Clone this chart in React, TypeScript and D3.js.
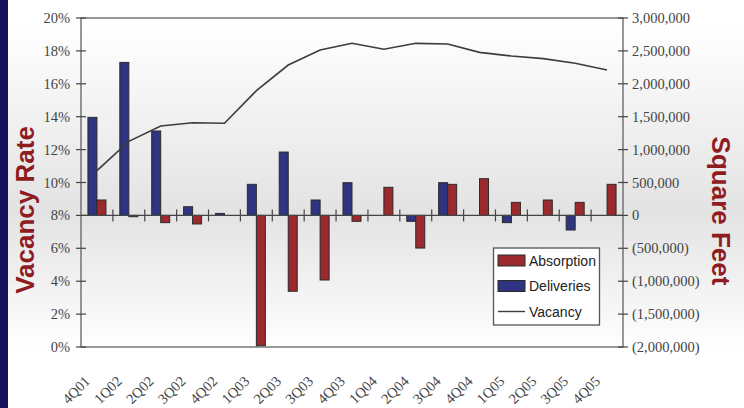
import React, { useEffect, useRef } from "react";
import * as d3 from "d3";

const categories = ["4Q01","1Q02","2Q02","3Q02","4Q02","1Q03","2Q03","3Q03","4Q03","1Q04","2Q04","3Q04","4Q04","1Q05","2Q05","3Q05","4Q05"];
const deliveries = [1490000, 2325000, 1283000, 132000, 30000, 472000, 963000, 234000, 497000, 0, -90000, 497000, 0, -110000, 0, -222000, 0];
const absorption = [234000, -20000, -110000, -130000, 0, -1980000, -1153000, -982000, -90000, 427000, -496000, 472000, 558000, 198000, 234000, 198000, 472000];
const vacancy = [10.72, 12.5, 13.43, 13.63, 13.6, 15.58, 17.14, 18.05, 18.46, 18.1, 18.46, 18.42, 17.91, 17.69, 17.53, 17.25, 16.84];
const leftTicks = [0, 2, 4, 6, 8, 10, 12, 14, 16, 18, 20];
const rightTicks = [-2000000, -1500000, -1000000, -500000, 0, 500000, 1000000, 1500000, 2000000, 2500000, 3000000];
const seriesNames = ["Deliveries", "Absorption"];
const legendItems = ["Absorption", "Deliveries", "Vacancy"];

const W = 744, H = 408;
const L = 81, R = 623, T = 18, B = 347;
const RED = "#9b2a2e", BLUE = "#2f3480", EDGE = "#2b2b2b";

export default function App() {
  const ref = useRef<SVGSVGElement>(null);
  useEffect(() => {
    document.body.style.margin = "0";
    const svg = d3.select(ref.current);
    svg.selectAll("*").remove();

    const defs = svg.append("defs");
    const g0 = defs.append("linearGradient").attr("id", "bg").attr("x1", 0).attr("y1", 0).attr("x2", 0).attr("y2", 1);
    [[0, "#ffffff"], [0.06, "#ffffff"], [0.52, "#e3e3e3"], [0.86, "#ffffff"], [1, "#ffffff"]].forEach(([o, c]) =>
      g0.append("stop").attr("offset", o as number).attr("stop-color", c as string));

    svg.append("rect").attr("width", W).attr("height", H).attr("fill", "url(#bg)");
    svg.append("rect").attr("width", 8).attr("height", H).attr("fill", "#17105a");

    const x = d3.scaleBand<string>().domain(categories).range([L, R]).paddingInner(0).paddingOuter(0);
    const x1 = d3.scaleBand<string>().domain(seriesNames).range([0, x.bandwidth()]).paddingInner(0).paddingOuter(0.77);
    const yL = d3.scaleLinear().domain([0, 20]).range([B, T]);
    const yR = d3.scaleLinear().domain([-2000000, 3000000]).range([B, T]);

    // frame
    svg.append("rect").attr("x", L).attr("y", T).attr("width", R - L).attr("height", B - T)
      .attr("fill", "none").attr("stroke", "#555").attr("stroke-width", 1.2);

    // bars
    const bars = svg.append("g");
    const drawBars = (vals: number[], name: string, color: string) => {
      bars.selectAll(null).data(vals.map((v, i) => ({ v, c: categories[i] })).filter(d => d.v !== 0))
        .enter().append("rect")
        .attr("x", d => (x(d.c) as number) + (x1(name) as number))
        .attr("width", x1.bandwidth())
        .attr("y", d => Math.min(yR(d.v), yR(0)))
        .attr("height", d => Math.abs(yR(d.v) - yR(0)))
        .attr("fill", color).attr("stroke", EDGE).attr("stroke-width", 1);
    };
    drawBars(deliveries, "Deliveries", BLUE);
    drawBars(absorption, "Absorption", RED);

    // zero line with category ticks
    const z = yR(0);
    svg.append("line").attr("x1", L).attr("x2", R).attr("y1", z).attr("y2", z).attr("stroke", "#444").attr("stroke-width", 1.2);
    svg.append("g").selectAll("line").data(categories.slice(1)).enter().append("line")
      .attr("x1", d => x(d) as number).attr("x2", d => x(d) as number)
      .attr("y1", z - 6).attr("y2", z + 6).attr("stroke", "#444").attr("stroke-width", 1.2);

    // vacancy line
    const line = d3.line<number>().x((_, i) => (x(categories[i]) as number) + x.bandwidth() / 2).y(d => yL(d));
    svg.append("path").datum(vacancy).attr("d", line).attr("fill", "none").attr("stroke", "#3c3c3c").attr("stroke-width", 1.6);

    // left axis
    const la = svg.append("g");
    leftTicks.forEach(t => {
      la.append("line").attr("x1", L - 5).attr("x2", L + 5).attr("y1", yL(t)).attr("y2", yL(t)).attr("stroke", "#444").attr("stroke-width", 1.2);
      la.append("text").attr("x", 70).attr("y", yL(t)).attr("dy", "0.35em").attr("text-anchor", "end")
        .attr("font-family", "Liberation Serif, serif").attr("font-size", 14.5).attr("fill", "#444").text(t + "%");
    });
    // right axis
    const fmt = d3.format(",");
    const ra = svg.append("g");
    rightTicks.forEach(t => {
      ra.append("line").attr("x1", R - 5).attr("x2", R + 5).attr("y1", yR(t)).attr("y2", yR(t)).attr("stroke", "#444").attr("stroke-width", 1.2);
      ra.append("text").attr("x", 632).attr("y", yR(t)).attr("dy", "0.35em").attr("text-anchor", "start")
        .attr("font-family", "Liberation Serif, serif").attr("font-size", 14.5).attr("fill", "#444")
        .text(t < 0 ? `(${fmt(-t)})` : fmt(t));
    });

    // x labels
    svg.append("g").selectAll("text").data(categories).enter().append("text")
      .attr("transform", d => `translate(${(x(d) as number) + x.bandwidth() / 2 - 6},${382}) rotate(-45)`)
      .attr("text-anchor", "end").attr("font-family", "Liberation Serif, serif").attr("font-size", 14.5).attr("fill", "#444")
      .text(d => d);

    // titles
    svg.append("text").attr("transform", "translate(33.5,210) rotate(-90)").attr("text-anchor", "middle")
      .attr("font-family", "Liberation Sans, Arial, sans-serif").attr("font-weight", "bold").attr("font-size", 26)
      .attr("fill", "#8f1c1e").text("Vacancy Rate");
    svg.append("text").attr("transform", "translate(712,211) rotate(90)").attr("text-anchor", "middle")
      .attr("font-family", "Liberation Sans, Arial, sans-serif").attr("font-weight", "bold").attr("font-size", 26)
      .attr("fill", "#8f1c1e").text("Square Feet");

    // legend
    const lg = svg.append("g");
    lg.append("rect").attr("x", 493.5).attr("y", 248).attr("width", 106).attr("height", 77)
      .attr("fill", "#ffffff").attr("stroke", "#555").attr("stroke-width", 1.3);
    legendItems.forEach((name, i) => {
      const cy = 260.5 + i * 25.5;
      if (name === "Vacancy") {
        lg.append("line").attr("x1", 498).attr("x2", 525).attr("y1", cy).attr("y2", cy).attr("stroke", "#3c3c3c").attr("stroke-width", 1.4);
      } else {
        lg.append("rect").attr("x", 498).attr("y", cy - 5.5).attr("width", 27).attr("height", 11)
          .attr("fill", name === "Absorption" ? RED : BLUE).attr("stroke", EDGE).attr("stroke-width", 1);
      }
      lg.append("text").attr("x", 529).attr("y", cy).attr("dy", "0.36em")
        .attr("font-family", "Liberation Sans, Arial, sans-serif").attr("font-size", 14).attr("fill", "#222").text(name);
    });
  }, []);
  return <svg ref={ref} width={W} height={H} style={{ display: "block" }} />;
}
